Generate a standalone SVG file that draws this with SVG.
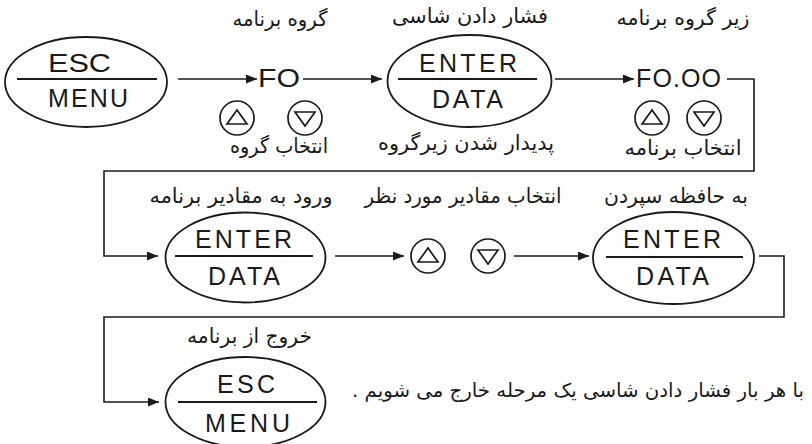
<svg xmlns="http://www.w3.org/2000/svg" xmlns:xlink="http://www.w3.org/1999/xlink" width="812" height="444" viewBox="0 0 812 444">
<style>
  .key{fill:none;stroke:#1a1a1a;stroke-width:1.8}
  .sep{stroke:#1a1a1a;stroke-width:1.8}
  .lat{font-family:"Liberation Sans",Arial,sans-serif;font-size:25px;fill:#1a1a1a}
  .fa{font-family:"DejaVu Sans","Noto Sans",sans-serif;font-size:20.5px;fill:#1a1a1a;text-anchor:middle}
  .con{fill:none;stroke:#1a1a1a;stroke-width:1.6}
  .btn{fill:none;stroke:#1a1a1a;stroke-width:1.7}
</style>
<defs>
  <marker id="ah" markerUnits="userSpaceOnUse" markerWidth="11" markerHeight="9" refX="11" refY="4.5" orient="auto">
    <path d="M0,0 L11,4.5 L0,9 z" fill="#1a1a1a"/>
  </marker>
  <g id="btnUp">
    <circle class="btn" cx="0" cy="0" r="17"/>
    <polygon class="btn" points="-10,6 10,6 0,-8"/>
  </g>
  <g id="btnDown">
    <circle class="btn" cx="0" cy="0" r="17"/>
    <polygon class="btn" points="-10,-6 10,-6 0,8"/>
  </g>
</defs>
<rect width="812" height="444" fill="#ffffff"/>

<g id="connectors">
  <line class="con" x1="178" y1="79" x2="257" y2="79" marker-end="url(#ah)"/>
  <line class="con" x1="303" y1="79" x2="382" y2="79" marker-end="url(#ah)"/>
  <line class="con" x1="555" y1="79" x2="634" y2="79" marker-end="url(#ah)"/>
  <polyline class="con" points="727,79 754,79 754,171 104,171 104,256 158,256" marker-end="url(#ah)"/>
  <line class="con" x1="335" y1="256" x2="404" y2="256" marker-end="url(#ah)"/>
  <line class="con" x1="514" y1="256" x2="589" y2="256" marker-end="url(#ah)"/>
  <polyline class="con" points="759,256 784,256 784,317 104,317 104,402 159,402" marker-end="url(#ah)"/>
</g>

<g id="esc-menu-1">
  <ellipse class="key" cx="86" cy="82" rx="81" ry="45"/>
  <line class="sep" x1="17" y1="79" x2="157" y2="79"/>
  <text class="lat" x="48" y="72" style="font-size:26px" textLength="63" lengthAdjust="spacingAndGlyphs">ESC</text>
  <text class="lat" x="48" y="107" textLength="80" lengthAdjust="spacing">MENU</text>
</g>

<g id="fo-group">
  <text class="fa" x="280" y="26" direction="rtl" textLength="95" lengthAdjust="spacingAndGlyphs">گروه برنامه</text>
  <text class="lat" x="258" y="87" textLength="42" lengthAdjust="spacingAndGlyphs">FO</text>
  <use xlink:href="#btnUp" x="237" y="118"/>
  <use xlink:href="#btnDown" x="305" y="118"/>
  <text class="fa" x="279" y="153" direction="rtl" textLength="98" lengthAdjust="spacingAndGlyphs">انتخاب گروه</text>
</g>

<g id="enter-data-1">
  <text class="fa" x="470" y="23" direction="rtl" textLength="156" lengthAdjust="spacingAndGlyphs">فشار دادن شاسی</text>
  <ellipse class="key" cx="469.5" cy="81" rx="82" ry="46"/>
  <line class="sep" x1="398" y1="79" x2="537" y2="79"/>
  <text class="lat" x="419" y="72" textLength="98" lengthAdjust="spacing">ENTER</text>
  <text class="lat" x="432" y="108" textLength="71" lengthAdjust="spacing">DATA</text>
  <text class="fa" x="466" y="150" direction="rtl" textLength="176" lengthAdjust="spacingAndGlyphs">پدیدار شدن زیرگروه</text>
</g>

<g id="fo00-group">
  <text class="fa" x="683" y="25" direction="rtl" textLength="133" lengthAdjust="spacingAndGlyphs">زیر گروه برنامه</text>
  <text class="lat" x="636" y="87" textLength="85" lengthAdjust="spacing">FO.OO</text>
  <use xlink:href="#btnUp" x="652" y="118"/>
  <use xlink:href="#btnDown" x="704" y="118"/>
  <text class="fa" x="683" y="155" direction="rtl" textLength="117" lengthAdjust="spacingAndGlyphs">انتخاب برنامه</text>
</g>

<g id="enter-data-2">
  <text class="fa" x="241" y="203" direction="rtl" textLength="183" lengthAdjust="spacingAndGlyphs">ورود به مقادیر برنامه</text>
  <ellipse class="key" cx="245.5" cy="257.5" rx="80" ry="45"/>
  <line class="sep" x1="175" y1="256" x2="313" y2="256"/>
  <text class="lat" x="195" y="248" textLength="97" lengthAdjust="spacing">ENTER</text>
  <text class="lat" x="208" y="285" textLength="72" lengthAdjust="spacing">DATA</text>
</g>

<g id="value-select">
  <text class="fa" x="463" y="203" direction="rtl" textLength="197" lengthAdjust="spacingAndGlyphs">انتخاب مقادیر مورد نظر</text>
  <use xlink:href="#btnUp" x="428" y="256"/>
  <use xlink:href="#btnDown" x="488" y="256"/>
</g>

<g id="enter-data-3">
  <text class="fa" x="676" y="203" direction="rtl" textLength="144" lengthAdjust="spacingAndGlyphs">به حافظه سپردن</text>
  <ellipse class="key" cx="673.5" cy="258" rx="80.5" ry="46"/>
  <line class="sep" x1="606" y1="257" x2="743" y2="257"/>
  <text class="lat" x="623" y="248" textLength="98" lengthAdjust="spacing">ENTER</text>
  <text class="lat" x="636" y="285" textLength="73" lengthAdjust="spacing">DATA</text>
</g>

<g id="esc-menu-2">
  <text class="fa" x="249.5" y="343" direction="rtl" textLength="125" lengthAdjust="spacingAndGlyphs">خروج از برنامه</text>
  <ellipse class="key" cx="245.5" cy="402" rx="80" ry="45"/>
  <line class="sep" x1="178" y1="402" x2="317" y2="402"/>
  <text class="lat" x="217" y="393" textLength="58" lengthAdjust="spacing">ESC</text>
  <text class="lat" x="205" y="432" textLength="85" lengthAdjust="spacing">MENU</text>
</g>

<g id="note">
  <text class="fa" x="578" y="397" style="font-size:19.5px" direction="rtl" textLength="452" lengthAdjust="spacingAndGlyphs">با هر بار فشار دادن شاسی یک مرحله خارج می شویم .</text>
</g>
</svg>
